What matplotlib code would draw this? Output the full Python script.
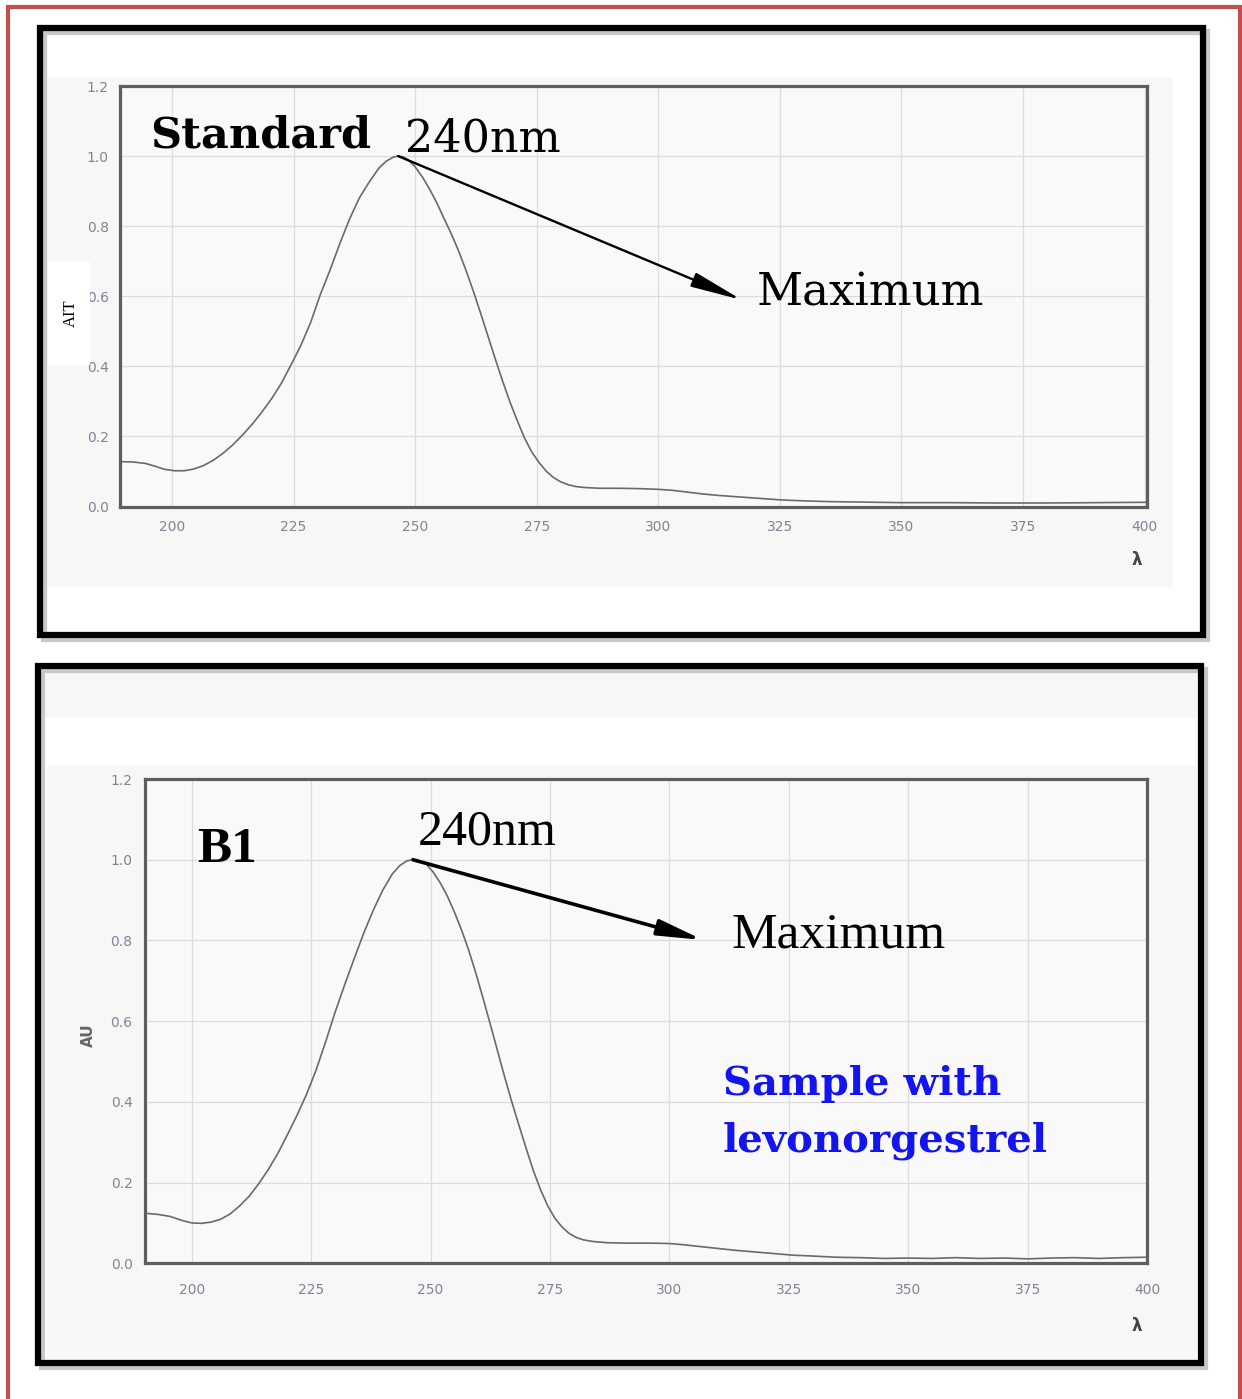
import numpy as np
import matplotlib
matplotlib.use("Agg")
import matplotlib.pyplot as plt
from matplotlib.patches import Rectangle

# UV spectra (wavelength nm, absorbance AU)
wl_std = [189.3, 192, 194.5, 196.5, 198.5, 200.5, 202.5, 204.5, 206.5, 208.5,
          210.5, 212.5, 214.5, 216.5, 218.5, 220.5, 222.5, 224.5, 226.5, 228.5,
          230.5, 232.5, 234.5, 236.5, 238.5, 240.5, 242.5, 244, 245.5, 246.5,
          247.5, 248.5, 249.9, 251.5, 253, 254.5, 256, 257.5, 259, 260.5, 262,
          263.5, 265, 266.5, 268, 269.5, 271, 272.5, 274, 275.5, 277, 278.5,
          280, 281.5, 283, 285, 288, 292, 296, 300, 303, 306, 309, 312, 316,
          320, 325, 330, 335, 340, 350, 360, 370, 380, 390, 400.5]
au_std = [0.128, 0.127, 0.123, 0.115, 0.106, 0.102, 0.102, 0.107, 0.117, 0.132,
          0.152, 0.176, 0.204, 0.235, 0.27, 0.308, 0.352, 0.405, 0.46, 0.525,
          0.605, 0.675, 0.75, 0.82, 0.88, 0.925, 0.965, 0.985, 0.997, 1.0,
          0.998, 0.99, 0.971, 0.94, 0.905, 0.865, 0.82, 0.776, 0.727, 0.672,
          0.613, 0.55, 0.485, 0.42, 0.357, 0.298, 0.245, 0.195, 0.155, 0.125,
          0.1, 0.082, 0.07, 0.062, 0.057, 0.054, 0.052, 0.052, 0.051, 0.049,
          0.046, 0.041, 0.036, 0.032, 0.028, 0.024, 0.019, 0.016, 0.014, 0.013,
          0.011, 0.011, 0.010, 0.010, 0.011, 0.012]

wl_b1 = [190.2, 193, 195.5, 198, 200, 202, 204, 206, 208, 210, 212, 214, 216,
         218, 220, 222, 224, 226, 228, 230, 232, 234, 236, 238, 240, 242, 243.5,
         245, 246.3, 247.5, 249, 250.5, 252, 253.5, 255, 256.5, 258, 259.5, 261,
         262.5, 264, 265.5, 267, 268.5, 270, 271.5, 273, 274.5, 276, 277.5, 279,
         280.5, 282, 284, 287, 291, 296, 300, 303, 306, 310, 314, 318, 322, 326,
         330, 335, 340, 345, 350, 355, 360, 365, 370, 375, 380, 385, 390, 395,
         400]
au_b1 = [0.124, 0.121, 0.116, 0.106, 0.1, 0.099, 0.102, 0.109, 0.122, 0.142,
         0.166, 0.197, 0.232, 0.272, 0.318, 0.366, 0.418, 0.478, 0.548, 0.622,
         0.69, 0.755, 0.818, 0.875, 0.925, 0.965, 0.985, 0.997, 1.0, 0.998,
         0.99, 0.97, 0.943, 0.91, 0.87, 0.825, 0.775, 0.718, 0.656, 0.592,
         0.527, 0.462, 0.4, 0.342, 0.285, 0.23, 0.183, 0.143, 0.112, 0.09,
         0.074, 0.064, 0.058, 0.054, 0.051, 0.05, 0.05, 0.049, 0.046, 0.042,
         0.037, 0.032, 0.028, 0.024, 0.02, 0.018, 0.015, 0.014, 0.012, 0.013,
         0.012, 0.014, 0.012, 0.013, 0.011, 0.013, 0.014, 0.012, 0.014, 0.015]

x_ticks = [200, 225, 250, 275, 300, 325, 350, 375, 400]
y_ticks = [0.0, 0.2, 0.4, 0.6, 0.8, 1.0, 1.2]

W, H = 1242, 1399
fig = plt.figure(figsize=(W / 100, H / 100), dpi=100)
fig.patch.set_facecolor("white")


def box(l, t, r, b):
    return [l / W, 1 - b / H, (r - l) / W, (b - t) / H]


def pt(x, y):
    return (x / W, 1 - y / H)


def rect(l, t, r, b, z=-10, **kw):
    x0, y0, w, h = box(l, t, r, b)
    fig.add_artist(Rectangle((x0, y0), w, h, transform=fig.transFigure,
                             zorder=z, **kw))


# red outer border
rect(8, 7, 1240, 1430, fill=False, ec="#c0504d", lw=3)

# light grey screenshot backgrounds
rect(45, 78, 1173, 587, fc="#f7f7f7", ec="none")
rect(42, 669, 1197, 718, fc="#f7f7f7", ec="none")
rect(47, 766, 1197, 1360, fc="#f7f7f7", ec="none")

# black panel frames with a soft shadow
for l, t, r, b in [(40, 28, 1203, 635), (38, 665.5, 1201, 1363)]:
    rect(l + 4, t + 4, r + 4, b + 4, fill=False, ec="#c8c8c8", lw=4.5)
    rect(l, t, r, b, fill=False, ec="black", lw=4.5)


def spectrum(axbox, xlim, wl, au, ypad, xpad):
    ax = fig.add_axes(box(*axbox))
    ax.set_facecolor("#f9f9f9")
    ax.plot(wl, au, color="#6a6a6a", lw=1.2)
    ax.set_xlim(*xlim)
    ax.set_ylim(0, 1.2)
    ax.set_xticks(x_ticks)
    ax.set_yticks(y_ticks)
    ax.set_yticklabels(["%.1f" % v for v in y_ticks])
    ax.grid(True, color="#dcdcdc", lw=0.9)
    ax.set_axisbelow(True)
    ax.tick_params(length=0, labelsize=10, labelcolor="#7f8595")
    ax.tick_params(axis="y", pad=ypad)
    ax.tick_params(axis="x", pad=xpad)
    for s in ax.spines.values():
        s.set_color("#5e5e5e")
        s.set_linewidth(2.3)
    return ax


ax1 = spectrum((120, 86, 1147, 506.5), (189.3, 400.5), wl_std, au_std, 8, 10)
ax2 = spectrum((145, 779, 1147, 1263.3), (190.2, 400), wl_b1, au_b1, 9, 14)

# axis labels
rect(48, 262, 90, 365, z=5, fc="white", ec="none")
fig.text(*pt(71, 313), "AIT", rotation=90, ha="center", va="center",
         family="Liberation Serif", fontsize=12, color="black", zorder=6)
fig.text(*pt(88, 1035), "AU", rotation=90, ha="center", va="center",
         fontsize=11, fontweight="bold", color="#666666")
fig.text(*pt(1137, 560), "λ", ha="center", va="center", fontsize=12,
         fontweight="bold", color="#444444")
fig.text(*pt(1137, 1326), "λ", ha="center", va="center", fontsize=12,
         fontweight="bold", color="#444444")

# panel 1 annotations
fig.text(*pt(150, 147), "Standard", family="DejaVu Serif", fontweight="bold",
         fontsize=31, va="baseline")
fig.text(*pt(405, 152), "240nm", family="DejaVu Serif", fontsize=32, va="baseline")
fig.text(*pt(757, 305), "Maximum", family="DejaVu Serif", fontsize=32.5,
         va="baseline")
i1 = int(np.argmax(au_std))
ax1.annotate("", xy=pt(742, 300), xycoords="figure fraction",
             xytext=(wl_std[i1], au_std[i1]), textcoords="data",
             arrowprops=dict(arrowstyle="-|>,head_length=2.1,head_width=0.3",
                             lw=1.7, color="black", shrinkA=0, shrinkB=0,
                             mutation_scale=15))

# panel 2 annotations
fig.text(*pt(197, 862), "B1", family="Liberation Serif", fontweight="bold",
         fontsize=37, va="baseline")
fig.text(*pt(418, 845), "240nm", family="Liberation Serif", fontsize=36,
         va="baseline")
fig.text(*pt(732, 948), "Maximum", family="Liberation Serif", fontsize=37,
         va="baseline")
fig.text(*pt(723, 1095), "Sample with", family="DejaVu Serif", fontweight="bold",
         fontsize=29, color="#1414ee", va="baseline")
fig.text(*pt(723, 1152), "levonorgestrel", family="DejaVu Serif", fontweight="bold",
         fontsize=29, color="#1414ee", va="baseline")
i2 = int(np.argmax(au_b1))
ax2.annotate("", xy=pt(703, 940), xycoords="figure fraction",
             xytext=(wl_b1[i2], au_b1[i2]), textcoords="data",
             arrowprops=dict(arrowstyle="-|>,head_length=1.8,head_width=0.32",
                             lw=2.6, color="black", shrinkA=0, shrinkB=0,
                             mutation_scale=15))

fig.savefig("out.png", dpi=100)
